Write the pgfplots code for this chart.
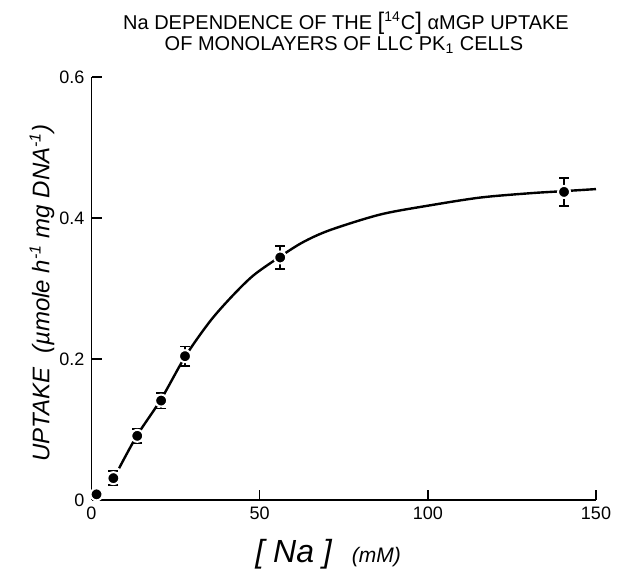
\documentclass[border=0pt]{standalone}
\usepackage{pgfplots}
\pgfplotsset{compat=1.18}
\usepackage{fontspec}
\setmainfont{Liberation Sans}
\begin{document}
\begin{tikzpicture}
\useasboundingbox (0,0) rectangle (310.5pt,285.5pt);
\node[font=\fontsize{10}{12}\selectfont] at (173pt,274pt) {Na DEPENDENCE OF THE {\large[}\textsuperscript{14}C{\large]} αMGP UPTAKE};
\node[font=\fontsize{10}{12}\selectfont] at (172pt,263pt) {OF MONOLAYERS OF LLC PK\textsubscript{1} CELLS};
\begin{axis}[
  at={(45.75pt,35.5pt)}, anchor=south west,
  scale only axis, width=252.25pt, height=211.5pt,
  xmin=0, xmax=150, ymin=0, ymax=0.6,
  axis x line=bottom, axis y line=left,
  axis line style={-, line width=0.7pt},
  tick align=inside, major tick length=5pt,
  tick style={line width=0.7pt, black},
  xtick={0,50,100,150}, ytick={0,0.2,0.4,0.6},
  yticklabels={0,0.2,0.4,0.6},
  /pgf/number format/assume math mode=true,
  ticklabel style={font=\fontsize{9}{10}\selectfont},
  xlabel={{\fontsize{16}{18}\selectfont\itshape [ Na ]}\quad{\fontsize{10.5}{12}\selectfont\itshape (mM)}},
  xlabel style={at={(axis description cs:0.469,0)}, anchor=north, yshift=-16pt},
  ylabel={\itshape UPTAKE\ \ (µmole h\textsuperscript{-1} mg DNA\textsuperscript{-1})},
  ylabel style={at={(axis description cs:-0.098,0.49)}, anchor=center, font=\fontsize{12}{14}\selectfont},
  clip=false,
]
\addplot[black, line width=1.2pt, smooth, tension=0.5] coordinates {
(8.2,0.045) (13.6,0.092) (20.7,0.143) (27.8,0.203) (35,0.252) (41.2,0.286)
(48,0.318) (56,0.345) (63,0.366) (71,0.383) (85.9,0.405) (100.7,0.418)
(115.6,0.429) (130,0.435) (140,0.438) (150,0.441)
};
\addplot[only marks, mark=*, mark size=3pt,
  mark options={fill=black, draw=white, line width=1pt},
  error bars/.cd, y dir=both, y explicit,
  error bar style={black, line width=0.8pt},
  error mark options={black, line width=0.8pt, mark size=2.5pt, rotate=90}]
coordinates {
(1.5,0.008) +- (0,0.004)
(6.5,0.031) +- (0,0.01)
(13.6,0.091) +- (0,0.01)
(20.7,0.141) +- (0,0.011)
(27.8,0.204) +- (0,0.014)
(56.1,0.344) +- (0,0.016)
(140.5,0.437) +- (0,0.02)
};
\end{axis}
\end{tikzpicture}
\end{document}
